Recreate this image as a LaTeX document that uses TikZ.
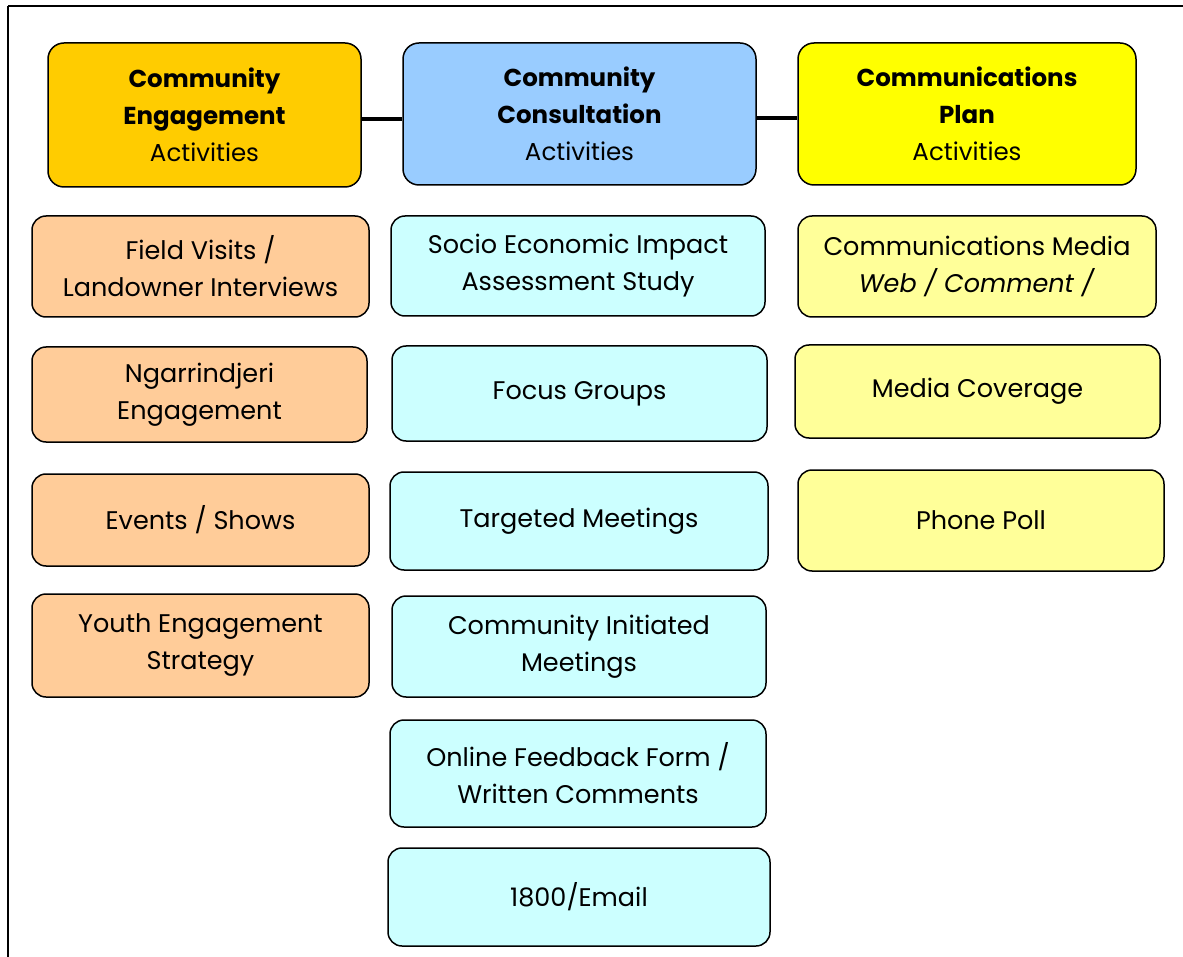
\documentclass[tikz,border=0pt]{standalone}
\usepackage{fontspec}
\setmainfont{Poppins}
\definecolor{hOrange}{HTML}{FFCC00}
\definecolor{hBlue}{HTML}{99CCFF}
\definecolor{hYellow}{HTML}{FFFF00}
\definecolor{cOrange}{HTML}{FFCC99}
\definecolor{cCyan}{HTML}{CCFFFF}
\definecolor{cYellow}{HTML}{FFFF99}
\begin{document}
\begin{tikzpicture}[x=1pt,y=-1pt,
  box/.style={draw=black, line width=1.5pt, rounded corners=14pt, align=center,
    inner sep=0pt, font=\fontsize{25.5}{37}\selectfont, text=black},
  head/.style={box, rounded corners=16pt, font=\fontsize{24.5}{37}\selectfont},
  link/.style={line width=3.5pt}]
\useasboundingbox (0,0) rectangle (1183,957);
\draw[line width=2pt] (8,6) -- (1200,6);
\draw[line width=2pt] (8,6) -- (8,970);
% headers
\node[head, fill=hOrange, minimum width=313, minimum height=144] (h1) at (204.5,115)
  {\textbf{Community}\\\textbf{Engagement}\\Activities};
\node[head, fill=hBlue, minimum width=353, minimum height=142] (h2) at (579.5,114)
  {\textbf{Community}\\\textbf{Consultation}\\Activities};
\node[head, fill=hYellow, minimum width=338, minimum height=142] (h3) at (967,114)
  {\textbf{Communications}\\\textbf{Plan}\\Activities};
\draw[link] ([yshift=-4pt]h1.east) -- ([yshift=-4pt]h1.east -| h2.west);
\draw[link] ([yshift=-4pt]h2.east) -- ([yshift=-4pt]h2.east -| h3.west);
% left column
\node[box, fill=cOrange, minimum width=337, minimum height=101] (l1) at (200.5,266.5)
  {Field Visits /\\Landowner Interviews};
\node[box, fill=cOrange, minimum width=335, minimum height=95] (l2) at (199.5,394.5)
  {Ngarrindjeri\\Engagement};
\node[box, fill=cOrange, minimum width=337, minimum height=92] (l3) at (200.5,520)
  {Events / Shows};
\node[box, fill=cOrange, minimum width=337, minimum height=103] (l4) at (200.5,645.5)
  {Youth Engagement\\Strategy};
% middle column
\node[box, fill=cCyan, minimum width=374, minimum height=100] (m1) at (578,266)
  {Socio Economic Impact\\Assessment Study};
\node[box, fill=cCyan, minimum width=375, minimum height=95] (m2) at (579.5,393.5)
  {Focus Groups};
\node[box, fill=cCyan, minimum width=378, minimum height=98] (m3) at (579,521)
  {Targeted Meetings};
\node[box, fill=cCyan, minimum width=374, minimum height=101] (m4) at (579,646.5)
  {Community Initiated\\Meetings};
\node[box, fill=cCyan, minimum width=376, minimum height=107] (m5) at (578,773.5)
  {Online Feedback Form /\\Written Comments};
\node[box, fill=cCyan, minimum width=382, minimum height=98] (m6) at (579,897)
  {1800/Email};
% right column
\node[box, fill=cYellow, minimum width=358, minimum height=101] (r1) at (977,266.5)
  {Communications Media\\\textit{Web / Comment /}};
\node[box, fill=cYellow, minimum width=365, minimum height=93] (r2) at (977.5,391.5)
  {Media Coverage};
\node[box, fill=cYellow, minimum width=366, minimum height=101] (r3) at (981,520.5)
  {Phone Poll};
\end{tikzpicture}
\end{document}
